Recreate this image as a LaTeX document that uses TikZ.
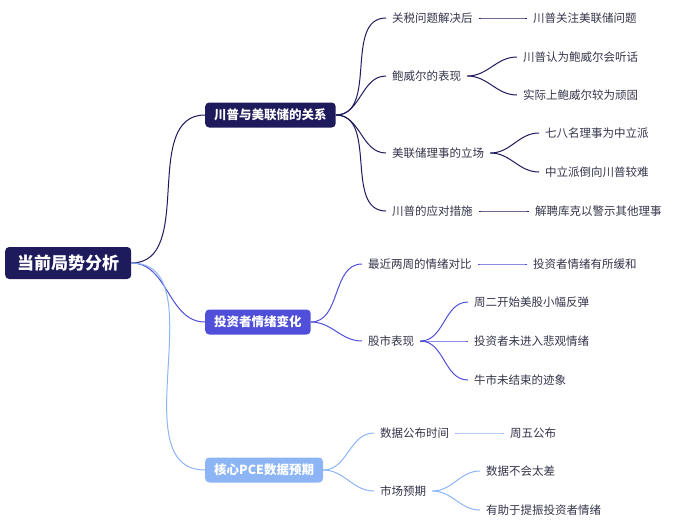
\documentclass[tikz,border=0pt]{standalone}
\usepackage{fontspec}
\setmainfont{Noto Sans CJK SC}
\usetikzlibrary{positioning}
\definecolor{navy}{HTML}{1E1B5C}
\definecolor{violet}{HTML}{4F4FD9}
\definecolor{sky}{HTML}{8DB5F5}
\definecolor{ink}{HTML}{34344A}
\begin{document}
\begin{tikzpicture}[x=1pt,y=-1pt,
    rootnode/.style={rectangle, rounded corners=4pt, fill=navy, text=white, font=\fontsize{17}{19}\selectfont\bfseries, inner xsep=12pt, minimum height=32pt},
    mainnode/.style={rectangle, rounded corners=4pt, text=white, font=\fontsize{12.5}{14}\selectfont\bfseries, inner xsep=9pt, minimum height=25pt},
    leafnode/.style={anchor=west, text=ink, font=\fontsize{11.5}{13}\selectfont, inner xsep=6pt},
    link/.style={line width=1pt, out=0, in=180},
  ]
  \useasboundingbox (0,0) rectangle (680,528);

  % root and main branches
  \node[rootnode, anchor=west] (root) at (5,263) {当前局势分析};
  \node[mainnode, fill=navy, anchor=west] (trump) at (205,115) {川普与美联储的关系};
  \node[mainnode, fill=violet, anchor=west] (invest) at (205,322) {投资者情绪变化};
  \node[mainnode, fill=sky, anchor=west] (pce) at (205,470) {核心PCE数据预期};

  \draw[link, navy] (root.east) to (trump.west);
  \draw[link, violet] (root.east) to (invest.west);
  \draw[link, sky] (root.east) to (pce.west);

  % branch 1
  \node[leafnode] (tariff) at (386,18) {关税问题解决后};
  \node[leafnode] (powell) at (386,76) {鲍威尔的表现};
  \node[leafnode] (board) at (386,153) {美联储理事的立场};
  \node[leafnode] (measure) at (386,211) {川普的应对措施};
  \node[leafnode] (focus) at (527,18) {川普关注美联储问题};
  \node[leafnode] (obey) at (517,57) {川普认为鲍威尔会听话};
  \node[leafnode] (stubborn) at (517,95) {实际上鲍威尔较为顽固};
  \node[leafnode] (neutral) at (539,133) {七八名理事为中立派};
  \node[leafnode] (hard) at (539,172) {中立派倒向川普较难};
  \node[leafnode] (cook) at (529,211) {解聘库克以警示其他理事};

  \foreach \n in {tariff,powell,board,measure}
    \draw[link, navy] (trump.east) to (\n.west);
  \draw[link, navy] (tariff.east) to (focus.west);
  \draw[link, navy] (powell.east) to (obey.west);
  \draw[link, navy] (powell.east) to (stubborn.west);
  \draw[link, navy] (board.east) to (neutral.west);
  \draw[link, navy] (board.east) to (hard.west);
  \draw[link, navy] (measure.east) to (cook.west);

  % branch 2
  \node[leafnode] (twoweeks) at (362,264) {最近两周的情绪对比};
  \node[leafnode] (stocks) at (362,341) {股市表现};
  \node[leafnode] (ease) at (527,264) {投资者情绪有所缓和};
  \node[leafnode] (rebound) at (468,302) {周二开始美股小幅反弹};
  \node[leafnode] (calm) at (468,341) {投资者未进入悲观情绪};
  \node[leafnode] (bull) at (468,380) {牛市未结束的迹象};

  \foreach \n in {twoweeks,stocks}
    \draw[link, violet] (invest.east) to (\n.west);
  \draw[link, violet] (twoweeks.east) to (ease.west);
  \foreach \n in {rebound,calm,bull}
    \draw[link, violet] (stocks.east) to (\n.west);

  % branch 3
  \node[leafnode] (release) at (374,433) {数据公布时间};
  \node[leafnode] (expect) at (374,491) {市场预期};
  \node[leafnode] (friday) at (504,433) {周五公布};
  \node[leafnode] (notbad) at (480,471) {数据不会太差};
  \node[leafnode] (boost) at (480,510) {有助于提振投资者情绪};

  \foreach \n in {release,expect}
    \draw[link, sky] (pce.east) to (\n.west);
  \draw[link, sky] (release.east) to (friday.west);
  \draw[link, sky] (expect.east) to (notbad.west);
  \draw[link, sky] (expect.east) to (boost.west);
\end{tikzpicture}
\end{document}
